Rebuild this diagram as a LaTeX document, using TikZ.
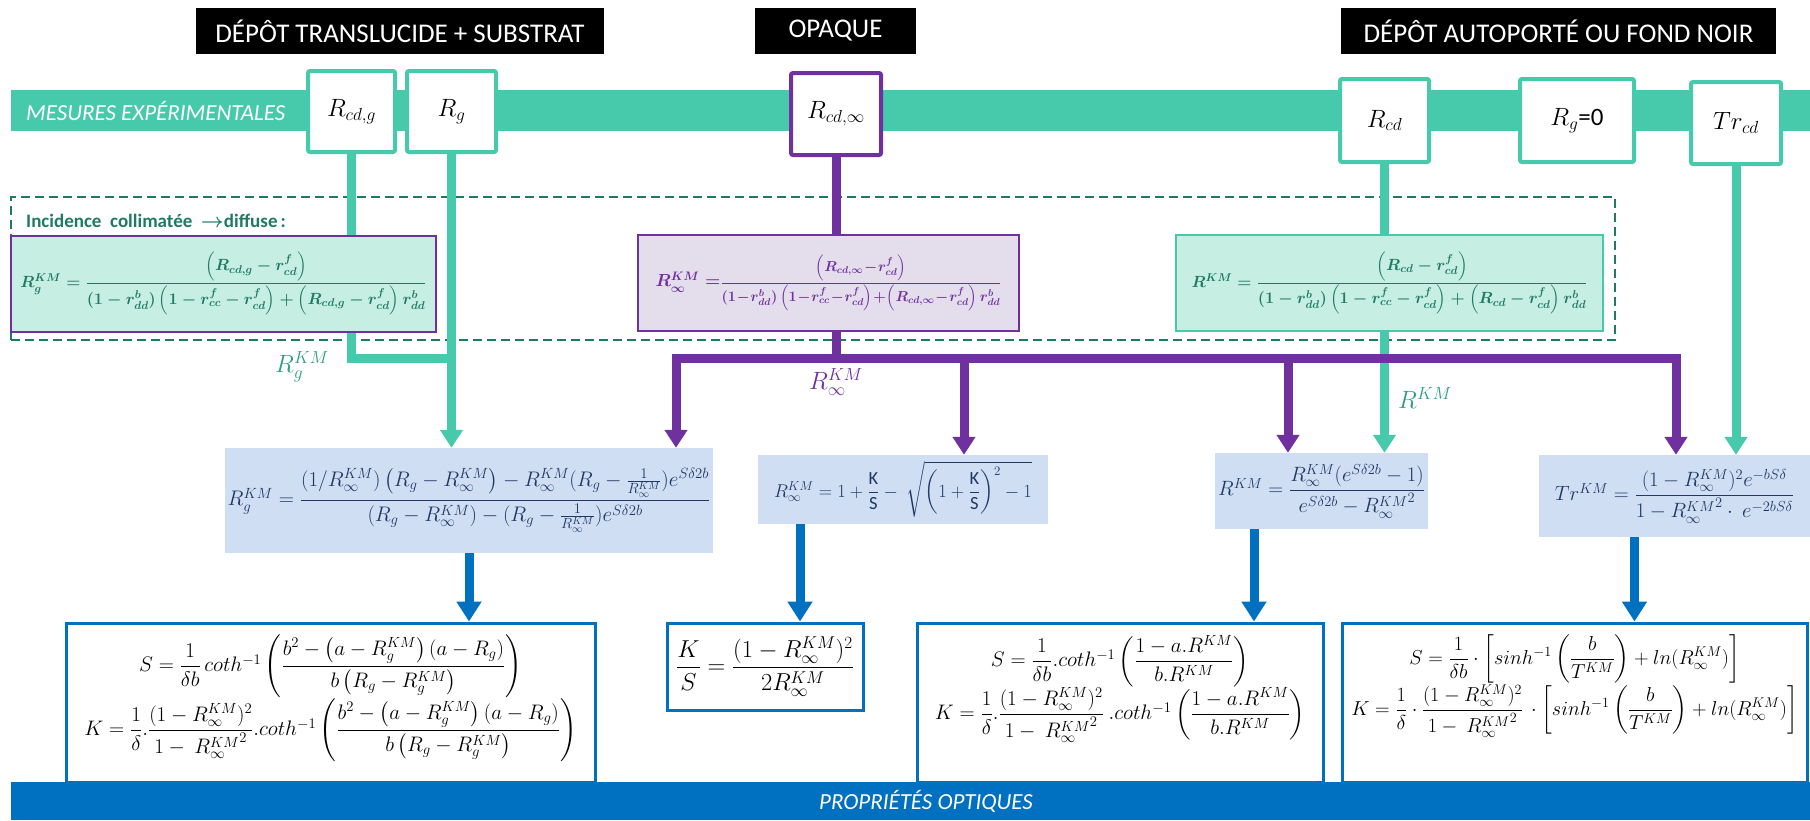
\RequirePackage{fix-cm}
\documentclass[tikz,border=0pt]{standalone}
\usepackage{amsmath,amssymb}
\usepackage{fontspec}
\setmainfont{Carlito}
\usepackage{xcolor}
\usepackage{tikz}
\usetikzlibrary{arrows.meta, positioning, backgrounds}

\definecolor{kmteal}{HTML}{47C9AB}
\definecolor{kmmint}{HTML}{C6EEE3}
\definecolor{kmgreen}{HTML}{1E7B62}
\definecolor{kmlabel}{HTML}{2E9E80}
\definecolor{kmpurple}{HTML}{7030A0}
\definecolor{kmlilac}{HTML}{E4DDEC}
\definecolor{kmblue}{HTML}{0070C0}
\definecolor{kmsky}{HTML}{CFDEF3}
\definecolor{kmnavy}{HTML}{1F3864}

\begin{document}
\begin{tikzpicture}[
    x=1pt, y=-1pt,
    header/.style={rectangle, fill=black, text=white, minimum height=46pt, inner sep=0pt, font=\fontsize{27}{31}\selectfont},
    band/.style={rectangle, inner sep=0pt, minimum width=1799pt},
    bandtext/.style={text=white, inner sep=0pt, font=\fontsize{23}{27}\selectfont\itshape},
    mesure/.style={rectangle, rounded corners=2pt, draw=kmteal, line width=4pt, fill=white, minimum height=81pt, inner sep=0pt, font=\fontsize{25}{29}\selectfont},
    kmbox/.style={rectangle, draw=kmteal, line width=2pt, fill=kmmint, minimum height=96pt, inner sep=0pt, text=kmgreen, font=\fontsize{16.2}{19}\selectfont\boldmath},
    calc/.style={rectangle, fill=kmsky, inner sep=0pt, text=kmnavy, font=\fontsize{20.7}{25}\selectfont},
    result/.style={rectangle, draw=kmblue, line width=3pt, fill=white, inner sep=0pt, align=center, font=\fontsize{21}{25}\selectfont},
    tline/.style={line width=9pt, kmteal},
    tarrow/.style={tline, -{Triangle[width=22pt, length=18pt]}},
    pline/.style={line width=9pt, kmpurple},
    parrow/.style={pline, -{Triangle[width=22pt, length=18pt]}},
    barrow/.style={line width=9pt, kmblue, -{Triangle[width=24pt, length=20pt]}},
    tag/.style={inner sep=0pt, font=\fontsize{25}{29}\selectfont}
]
\useasboundingbox (0,0) rectangle (1810,820);
% Headers
\node[header, minimum width=408pt] (hTrans) at (400,31) {DÉPÔT TRANSLUCIDE + SUBSTRAT};
\node[header, minimum width=161pt] (hOpaque) at (835.5,31) {OPAQUE};
\node[header, minimum width=435pt] (hAuto) at (1558.5,31) {DÉPÔT AUTOPORTÉ OU FOND NOIR};
% Measurements band
\node[band, fill=kmteal, minimum height=41pt] (mesures) at (910.5,110.5) {};
\node[bandtext, anchor=west] (mesuresTxt) at (26,110.5) {MESURES EXPÉRIMENTALES};
\node[mesure, minimum width=87pt] (mRcdg) at (351.5,111.5) {$R_{cd,g}$};
\node[mesure, minimum width=89pt] (mRg) at (451.5,111.5) {$R_g$};
\node[mesure, draw=kmpurple, minimum width=90pt, minimum height=82pt] (mRinf) at (836,114) {$R_{cd,\infty}$};
\node[mesure, minimum width=89pt, minimum height=83pt] (mRcd) at (1384.5,120.5) {$R_{cd}$};
\node[mesure, minimum width=114pt, minimum height=83pt] (mRg0) at (1577,120.5) {$R_g$=0};
\node[mesure, minimum width=90pt, minimum height=82pt] (mTr) at (1736,123) {$Tr_{cd}$};
% Collimated -> diffuse correction
\node[anchor=west, inner sep=0pt, text=kmgreen, font=\fontsize{19}{22}\selectfont\bfseries] (incTxt) at (26,221)
  {Incidence\ \ collimatée\ \ {\fontsize{20}{20}\selectfont$\boldsymbol{\rightarrow}$}diffuse\,:};
\node[kmbox, draw=kmpurple, minimum width=425pt] (fG) at (223.5,283.5)
  {$R_g^{KM}=\dfrac{\left(R_{cd,g}-r^f_{cd}\right)}{(1-r^b_{dd})\left(1-r^f_{cc}-r^f_{cd}\right)+\left(R_{cd,g}-r^f_{cd}\right)r^b_{dd}}$};
\node[kmbox, draw=kmpurple, fill=kmlilac, text=kmpurple, minimum width=381pt] (fInf) at (828.5,283)
  {\fontsize{17.5}{20}\selectfont$R_\infty^{KM}=$\fontsize{14.4}{16}\selectfont$\dfrac{\left(R_{cd,\infty}\!-\!r^f_{cd}\right)}{(1\!-\!r^b_{dd})\left(1\!-\!r^f_{cc}\!-\!r^f_{cd}\right)\!+\!\left(R_{cd,\infty}\!-\!r^f_{cd}\right)r^b_{dd}}$};
\node[kmbox, minimum width=427pt] (fCd) at (1389.5,283)
  {$R^{KM}=\dfrac{\left(R_{cd}-r^f_{cd}\right)}{(1-r^b_{dd})\left(1-r^f_{cc}-r^f_{cd}\right)+\left(R_{cd}-r^f_{cd}\right)r^b_{dd}}$};
% Kubelka-Munk reflectances
\node[calc, minimum width=488pt, minimum height=105pt, font=\fontsize{21.1}{25}\selectfont] (bG) at (469,500.5)
  {$R_g^{KM}=\dfrac{(1/R_\infty^{KM})\left(R_g-R_\infty^{KM}\right)-R_\infty^{KM}(R_g-\frac{1}{R_\infty^{KM}})e^{S\delta 2b}}{\left(R_g-R_\infty^{KM}\right)-(R_g-\frac{1}{R_\infty^{KM}})e^{S\delta 2b}}$};
\node[calc, minimum width=290pt, minimum height=69pt, font=\fontsize{18.5}{22}\selectfont] (bInf) at (903,489.5)
  {$R_\infty^{KM}=1+\dfrac{\text{K}}{\text{S}}-\ \sqrt{\left(1+\dfrac{\text{K}}{\text{S}}\right)^2-1}$};
\node[calc, minimum width=213pt, minimum height=76pt] (bCd) at (1321.5,491)
  {$R^{KM}=\dfrac{R_\infty^{KM}(e^{S\delta 2b}-1)}{e^{S\delta 2b}-{R_\infty^{KM}}^2}$};
\node[calc, minimum width=271pt, minimum height=82pt] (bTr) at (1674.5,496)
  {$Tr^{KM}=\dfrac{(1-R_\infty^{KM})^2e^{-bS\delta}}{1-{R_\infty^{KM}}^2\cdot\ e^{-2bS\delta}}$};
% Optical properties
\node[result, minimum width=529pt, minimum height=159pt] (rG) at (330.5,702.5) {};
\node[result, draw=none, fill=none, below=12pt of rG.north] (rGtxt)
  {$S=\dfrac{1}{\delta b}\,coth^{-1}\left(\dfrac{b^2-\left(a-R_g^{KM}\right)\left(a-R_g\right)}{b\left(R_g-R_g^{KM}\right)}\right)$\\
   $K=\dfrac{1}{\delta}.\dfrac{(1-R_\infty^{KM})^2}{1-\ {R_\infty^{KM}}^2}.coth^{-1}\left(\dfrac{b^2-\left(a-R_g^{KM}\right)\left(a-R_g\right)}{b\left(R_g-R_g^{KM}\right)}\right)$};
\node[result, minimum width=196pt, minimum height=87pt, font=\fontsize{24.5}{28}\selectfont] (rInf) at (765,666.5)
  {$\dfrac{K}{S}=\dfrac{(1-R_\infty^{KM})^2}{2R_\infty^{KM}}$};
\node[result, minimum width=406pt, minimum height=159pt] (rCd) at (1120,702.5) {};
\node[result, draw=none, fill=none, below=12pt of rCd.north] (rCdtxt)
  {$S=\dfrac{1}{\delta b}.coth^{-1}\left(\dfrac{1-a.R^{KM}}{b.R^{KM}}\right)$\\
   $K=\dfrac{1}{\delta}.\dfrac{(1-R_\infty^{KM})^2}{1-\ {R_\infty^{KM}}^2}\ .coth^{-1}\left(\dfrac{1-a.R^{KM}}{b.R^{KM}}\right)$};
\node[result, minimum width=465pt, minimum height=159pt] (rTr) at (1574.5,702.5) {};
\node[result, draw=none, fill=none, font=\fontsize{20.2}{24}\selectfont, below=12pt of rTr.north] (rTrtxt)
  {$S=\dfrac{1}{\delta b}\cdot\left[sinh^{-1}\left(\dfrac{b}{T^{KM}}\right)+ln(R_\infty^{KM})\right]$\\
   $K=\dfrac{1}{\delta}\cdot\dfrac{(1-R_\infty^{KM})^2}{1-\ {R_\infty^{KM}}^2}\,\cdot\left[sinh^{-1}\left(\dfrac{b}{T^{KM}}\right)+ln(R_\infty^{KM})\right]$};
\node[band, fill=kmblue, minimum height=38pt] (optiques) at (910.5,801) {};
\node[bandtext] (optiquesTxt) at (926,801) {PROPRIÉTÉS OPTIQUES};
% Junctions
\coordinate (pbar) at (0,358);
\coordinate (p1) at (676,358);
\coordinate (p2) at (964,358);
\coordinate (p3) at (1288,358);
\coordinate (p4) at (1676,358);
% Labels
\node[tag, text=kmlabel] (lG) at (302,367) {$R_g^{KM}$};
\node[tag, text=kmpurple, below=10pt of mRinf.south |- pbar] (lInf) {$R_\infty^{KM}$};
\node[tag, text=kmlabel] (lCd) at (1425,398) {$R^{KM}$};
% Connectors
\begin{scope}[on background layer]
\node[draw=kmgreen, dash pattern=on 9pt off 5pt, line width=2pt, minimum width=1604pt, minimum height=143pt, inner sep=0pt] (incidence) at (813,268.5) {};
\draw[tline] (mRcdg.south) -- (mRcdg.south |- pbar) -- (mRg.south |- pbar);
\draw[tarrow] (mRg.south) -- (mRg.south |- bG.north);
\draw[tarrow] (mRcd.south) -- (mRcd.south |- bCd.north);
\draw[tarrow] (mTr.south) -- (mTr.south |- bTr.north);
\draw[pline] (mRinf.south) -- (mRinf.south |- pbar);
\draw[pline, line cap=rect] (p1) -- (p4);
\draw[parrow] (p1) -- (p1 |- bG.north);
\draw[parrow] (p2) -- (p2 |- bInf.north);
\draw[parrow] (p3) -- (p3 |- bCd.north);
\draw[parrow] (p4) -- (p4 |- bTr.north);
\draw[barrow] (bG.south) -- (bG.south |- rG.north);
\draw[barrow] ([xshift=-103pt]bInf.south) -- ([xshift=-103pt]bInf.south |- rInf.north);
\draw[barrow] ([xshift=-67.5pt]bCd.south) -- ([xshift=-67.5pt]bCd.south |- rCd.north);
\draw[barrow] ([xshift=-40pt]bTr.south) -- ([xshift=-40pt]bTr.south |- rTr.north);
\end{scope}
\end{tikzpicture}
\end{document}
